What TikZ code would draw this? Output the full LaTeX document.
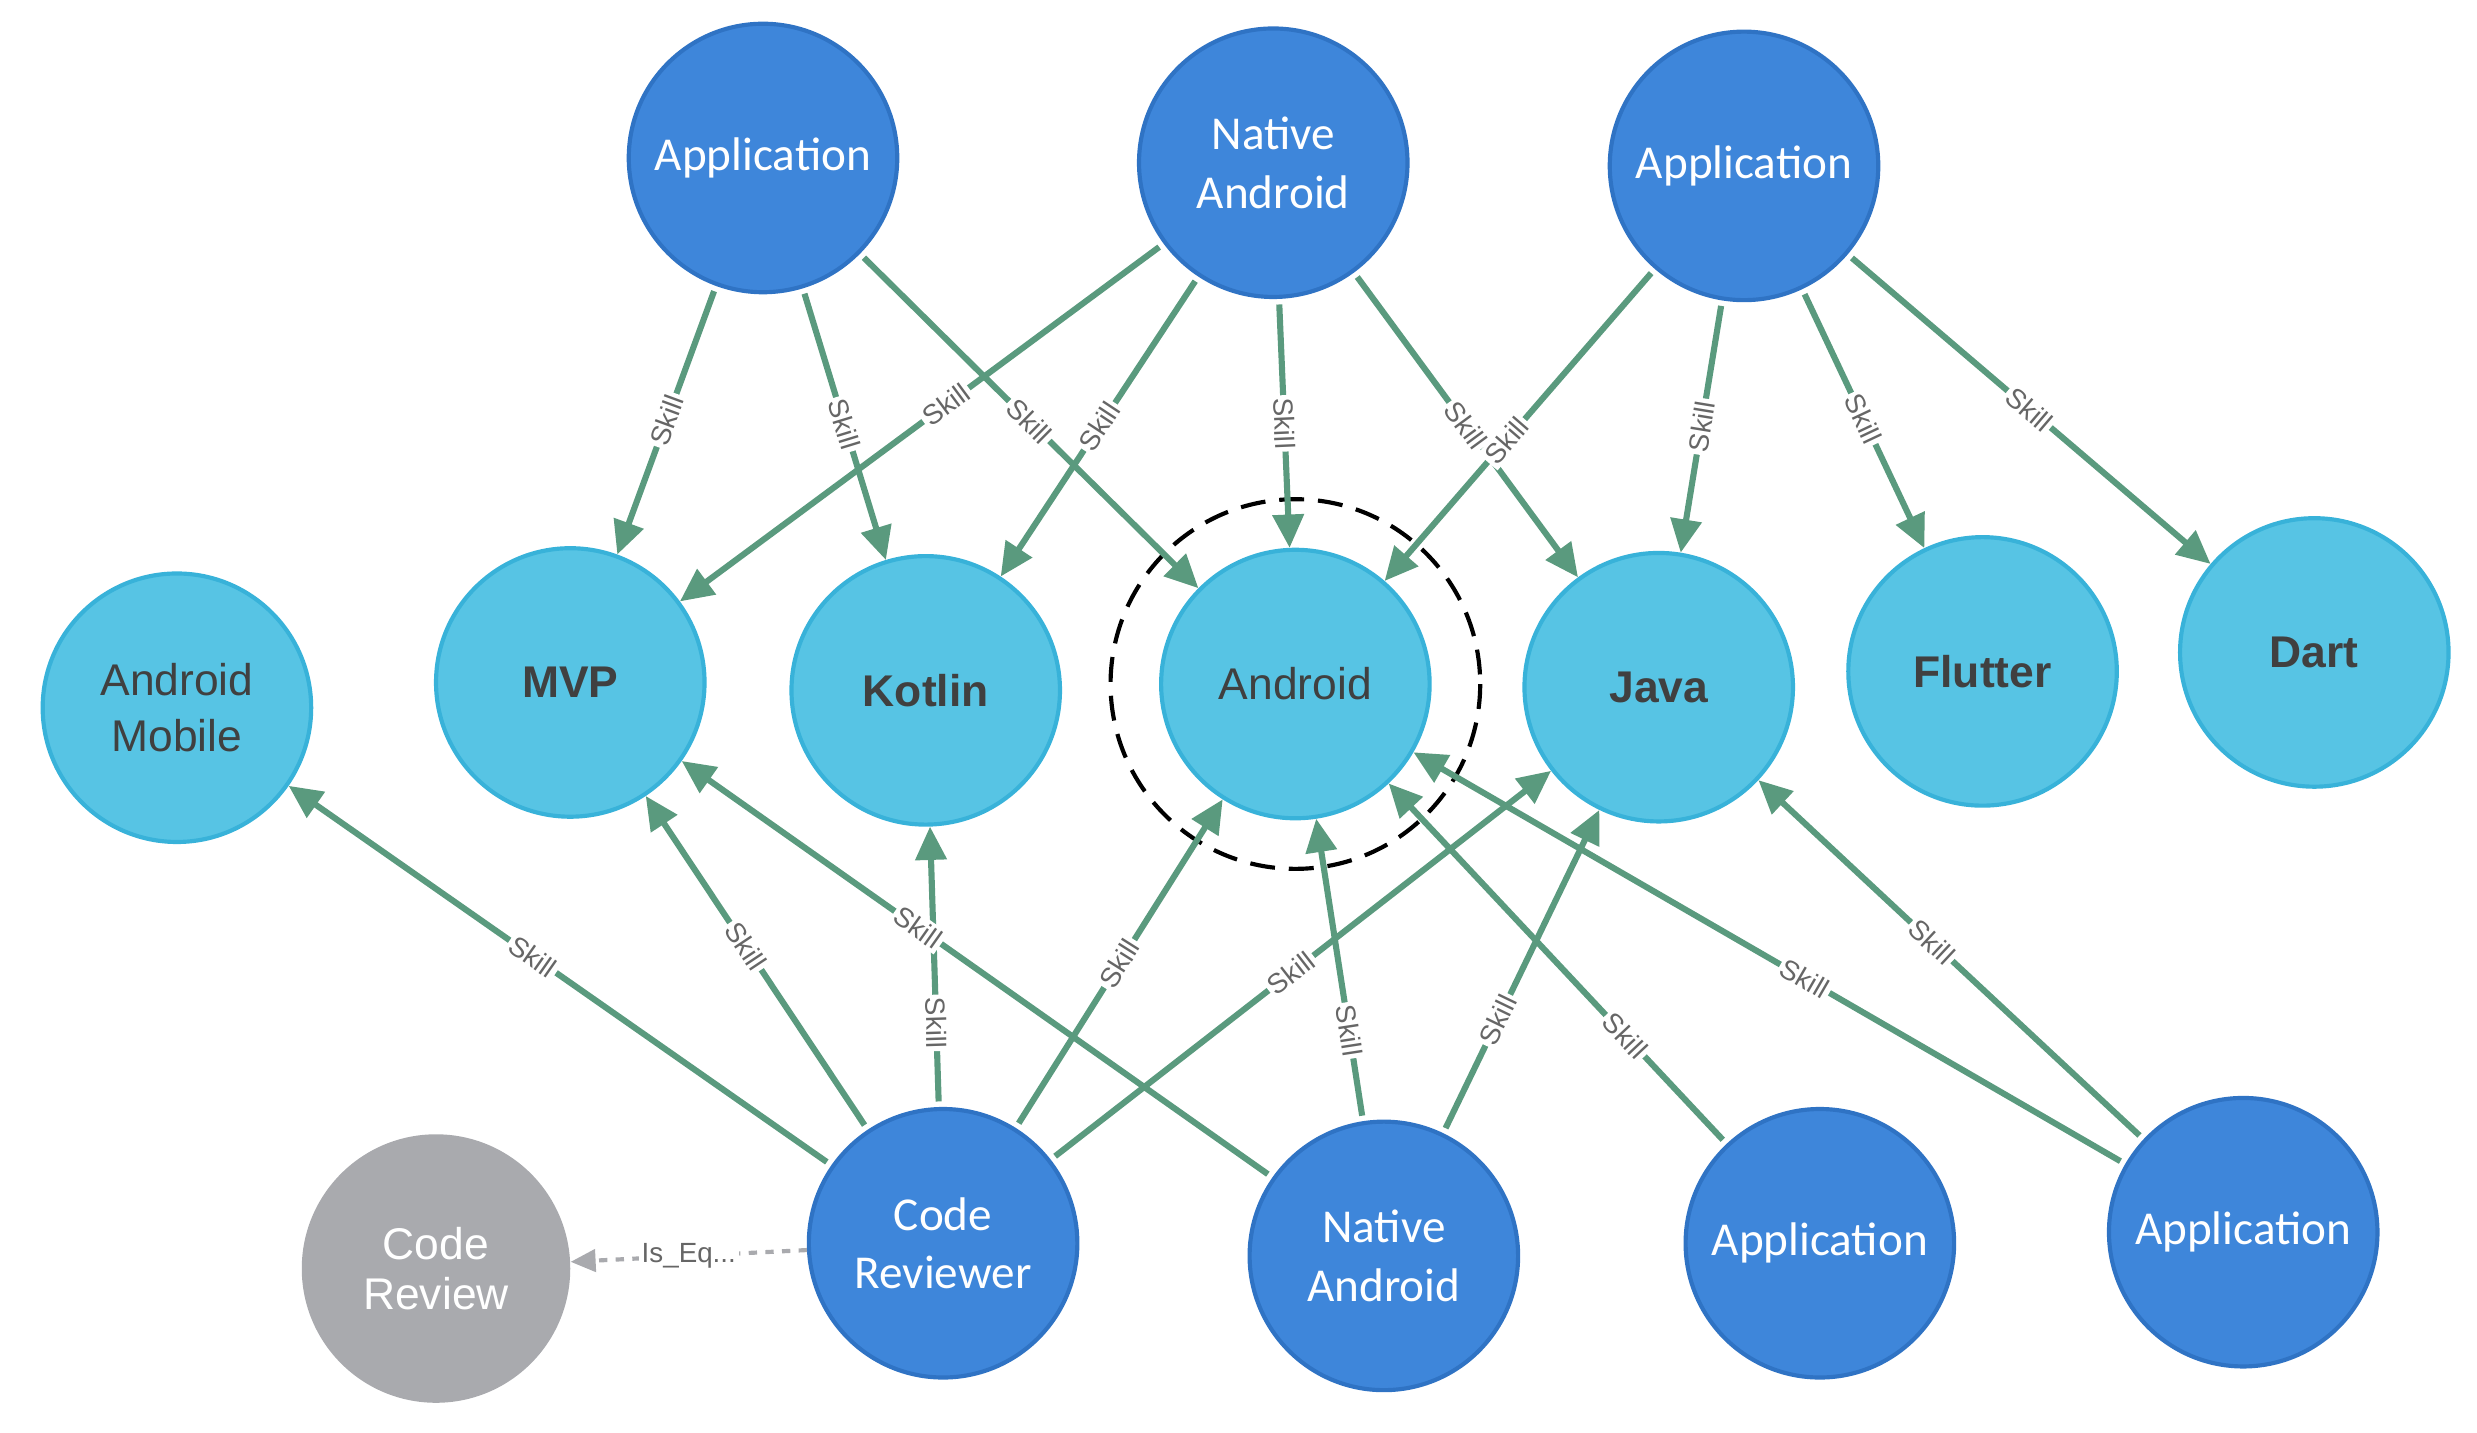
\documentclass[tikz,border=0pt]{standalone}
\usepackage{fontspec}
\setmainfont{Carlito}
\newfontfamily\hv{Liberation Sans}
\usetikzlibrary{arrows.meta}
\definecolor{dk}{HTML}{3E86DA}
\definecolor{dkb}{HTML}{2F73C4}
\definecolor{lt}{HTML}{57C4E4}
\definecolor{ltb}{HTML}{38B2D9}
\definecolor{eg}{HTML}{5A9A7E}
\definecolor{gr}{HTML}{A9AAAE}
\begin{document}
\begin{tikzpicture}[x=0.02cm,y=-0.02cm,
 dkn/.style={circle,minimum size=3.4cm,fill=dk,draw=dkb,line width=1.5pt,text=white,align=center,font=\fontsize{17}{21}\selectfont},
 ltn/.style={circle,minimum size=3.4cm,fill=lt,draw=ltb,line width=1.5pt,text=black!75,align=center,font=\hv\fontsize{16}{20}\selectfont},
 e/.style={draw=eg,line width=2.2pt,-{Triangle[length=12pt,width=11pt]},shorten <=2pt},
 lb/.style={sloped,fill=white,inner sep=1pt,text=black!60,font=\hv\fontsize{10}{12}\selectfont}]
\useasboundingbox (0,0) rectangle (1568,907);
\node[dkn] (a1) at (483,100) {Application};
\node[dkn] (n1) at (806,103) {Native\\Android};
\node[dkn] (a2) at (1104,105) {Application};
\node[ltn] (am) at (112,448) {Android\\Mobile};
\node[ltn] (mvp) at (361,432) {\bfseries MVP};
\node[ltn] (ko) at (586,437) {\bfseries Kotlin};
\node[ltn] (an) at (820,433) {Android};
\node[ltn] (ja) at (1050,435) {\bfseries Java};
\node[ltn] (fl) at (1255,425) {\bfseries Flutter};
\node[ltn] (da) at (1465,413) {\bfseries Dart};
\node[circle,minimum size=3.4cm,fill=gr,text=white,align=center,font=\hv\fontsize{16}{18}\selectfont] (cr) at (276,803) {Code\\Review};
\node[dkn] (cw) at (597,787) {Code\\Reviewer};
\node[dkn] (n2) at (876,795) {Native\\Android};
\node[dkn] (a3) at (1152,787) {Application};
\node[dkn] (a4) at (1420,780) {Application};
\draw[dashed,line width=1.5pt,dash pattern=on 9pt off 5pt] (an) circle (117);
\foreach \s/\t/\p in {a1/mvp/0.5,a1/ko/0.5,a1/an/0.5,n1/mvp/0.45,n1/ko/0.5,n1/an/0.5,n1/ja/0.5,a2/an/0.55,a2/ja/0.5,a2/fl/0.5,a2/da/0.5,
 cw/am/0.55,cw/mvp/0.55,cw/ko/0.3,cw/an/0.5,cw/ja/0.48,n2/mvp/0.6,n2/an/0.3,n2/ja/0.35,a3/an/0.3,a4/an/0.45,a4/ja/0.55}
 \draw[e] (\s) -- node[lb,pos=\p]{Skill} (\t);
\draw[gr,line width=1.5pt,dashed,-{Triangle[length=9pt,width=8pt]}] (cw) -- node[fill=white,inner sep=1pt,text=black!60,font=\hv\fontsize{10}{12}\selectfont]{Is\_Eq...} (cr);
\end{tikzpicture}
\end{document}
